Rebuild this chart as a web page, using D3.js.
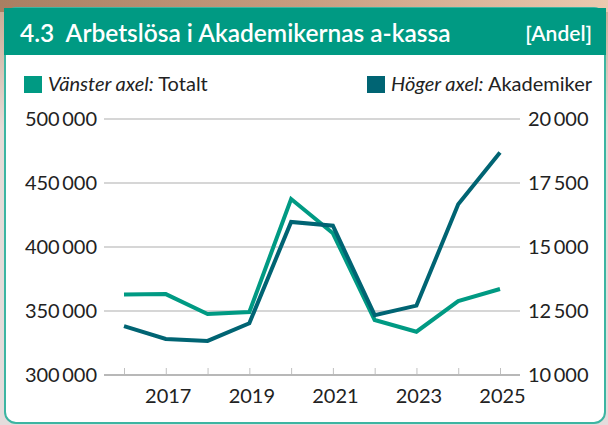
<!DOCTYPE html>
<html>
<head>
<meta charset="utf-8">
<script src="https://cdn.jsdelivr.net/npm/d3@7"></script>
<style>
  html, body { margin: 0; padding: 0; }
  body { width: 608px; height: 425px; overflow: hidden; font-family: Lato, "Open Sans", sans-serif; }
</style>
</head>
<body>
<div id="chartContainer"></div>
<script>
// data
const years = [2016, 2017, 2018, 2019, 2020, 2021, 2022, 2023, 2024, 2025]
const totalt = [362800, 363200, 347600, 349200, 437500, 410700, 343000, 333800, 357800, 367200]
const akademiker = [11910, 11410, 11330, 12020, 15980, 15830, 12340, 12710, 16670, 18690]
const leftTicks = [300000, 350000, 400000, 450000, 500000]
const rightTicks = [10000, 12500, 15000, 17500, 20000]
const yearLabels = [2017, 2019, 2021, 2023, 2025]

const colors = {
  totalt: '#009a83',
  akademiker: '#006473',
  header: '#009a83',
  grid: '#c9c9c9',
  text: '#222'
}

const W = 608, H = 425
const fontSize = '20px'

const svg = d3.select('#chartContainer').append('svg')
  .attr('width', W)
  .attr('height', H)
  .attr('xmlns', 'http://www.w3.org/2000/svg')

// photo-ish background behind the card
const defs = svg.append('defs')
const bg = defs.append('linearGradient').attr('id', 'bg').attr('x1', 0).attr('x2', 1).attr('y1', 0).attr('y2', 0)
bg.append('stop').attr('offset', '0%').attr('stop-color', '#a87f62')
bg.append('stop').attr('offset', '50%').attr('stop-color', '#c79d80')
bg.append('stop').attr('offset', '100%').attr('stop-color', '#ebcab0')
const bgSide = defs.append('linearGradient').attr('id', 'bgSide').attr('x1', 0).attr('x2', 0).attr('y1', 0).attr('y2', 1)
bgSide.append('stop').attr('offset', '0%').attr('stop-color', '#c8a890')
bgSide.append('stop').attr('offset', '30%').attr('stop-color', '#e6dcd8')
bgSide.append('stop').attr('offset', '100%').attr('stop-color', '#e4dcdc')

svg.append('rect').attr('width', W).attr('height', H).attr('fill', 'url(#bgSide)')
svg.append('rect').attr('width', W).attr('height', 12).attr('fill', 'url(#bg)')

// card
const cardX = 4, cardY = 8, cardW = 602
svg.append('rect')
  .attr('x', cardX + 1).attr('y', cardY)
  .attr('width', cardW - 2).attr('height', 415)
  .attr('rx', 11)
  .attr('fill', '#fff')
  .attr('stroke', '#3cb5a2')
  .attr('stroke-width', 2)
svg.append('rect')
  .attr('x', cardX).attr('y', cardY)
  .attr('width', cardW).attr('height', 47)
  .attr('fill', colors.header)

svg.append('text')
  .attr('x', 20).attr('y', 42)
  .attr('fill', '#fff')
  .style('font-size', '24.5px')
  .style('font-weight', 600)
  .style('white-space', 'pre')
  .text('4.3  Arbetslösa i Akademikernas a-kassa')
svg.append('text')
  .attr('x', 592).attr('y', 41)
  .attr('text-anchor', 'end')
  .attr('fill', '#fff')
  .style('font-size', '21px')
  .style('font-weight', 600)
  .text('[Andel]')

// legend
const legend = [
  { x: 24, label: 'Vänster axel:', name: ' Totalt', color: colors.totalt },
  { x: 367, label: 'Höger axel:', name: ' Akademiker', color: colors.akademiker }
]
legend.forEach(function (d) {
  svg.append('rect').attr('x', d.x).attr('y', 76).attr('width', 18).attr('height', 17).attr('fill', d.color)
  const t = svg.append('text').attr('x', d.x + 24).attr('y', 91)
    .attr('fill', colors.text).style('font-size', fontSize)
  t.append('tspan').style('font-style', 'italic').text(d.label)
  t.append('tspan').text(d.name)
})

// scales
const x = d3.scaleLinear()
  .domain([years[0], years[years.length - 1]])
  .range([124, 500])
const yL = d3.scaleLinear().domain([300000, 500000]).range([375, 119])
const yR = d3.scaleLinear().domain([10000, 20000]).range([375, 119])

const locale = d3.formatLocale({ decimal: ',', thousands: '\u2009', grouping: [3], currency: ['', ' kr'] })
const fmt = locale.format(',d')

const axisLeft = 104, axisRight = 520

// gridlines
svg.append('g').selectAll('line')
  .data(leftTicks.slice(1))
  .enter().append('line')
  .attr('x1', axisLeft).attr('x2', axisRight)
  .attr('y1', d => yL(d)).attr('y2', d => yL(d))
  .attr('stroke', colors.grid)
  .attr('stroke-width', 1.5)

// x axis
const xAxis = d3.axisBottom(x)
  .tickValues(years)
  .tickSize(-7)
  .tickFormat(d => yearLabels.includes(d) ? d : '')
const gx = svg.append('g').attr('transform', 'translate(0,' + yL(300000) + ')').call(xAxis)
gx.select('.domain').remove()
gx.selectAll('.tick line').attr('stroke', '#c0c0c0').attr('stroke-width', 1)
gx.selectAll('.tick text')
  .attr('y', 14)
  .attr('dx', 2)
  .attr('fill', colors.text)
  .style('font-family', 'Lato, sans-serif')
  .style('font-size', fontSize)
gx.append('line')
  .attr('x1', axisLeft).attr('x2', axisRight)
  .attr('stroke', '#b8b8b8').attr('stroke-width', 2)

// left axis labels
svg.append('g').selectAll('text')
  .data(leftTicks)
  .enter().append('text')
  .attr('x', 97)
  .attr('y', d => yL(d) + 7)
  .attr('text-anchor', 'end')
  .attr('fill', colors.text)
  .style('font-size', fontSize)
  .text(d => fmt(d))

// right axis labels
svg.append('g').selectAll('text')
  .data(rightTicks)
  .enter().append('text')
  .attr('x', 528)
  .attr('y', d => yR(d) + 7)
  .attr('fill', colors.text)
  .style('font-size', fontSize)
  .text(d => fmt(d))

// lines
const lineL = d3.line().x((d, i) => x(years[i])).y(d => yL(d))
const lineR = d3.line().x((d, i) => x(years[i])).y(d => yR(d))

svg.append('path')
  .datum(totalt)
  .attr('d', lineL)
  .attr('fill', 'none')
  .attr('stroke', colors.totalt)
  .attr('stroke-width', 4)

svg.append('path')
  .datum(akademiker)
  .attr('d', lineR)
  .attr('fill', 'none')
  .attr('stroke', colors.akademiker)
  .attr('stroke-width', 4)
</script>
</body>
</html>
